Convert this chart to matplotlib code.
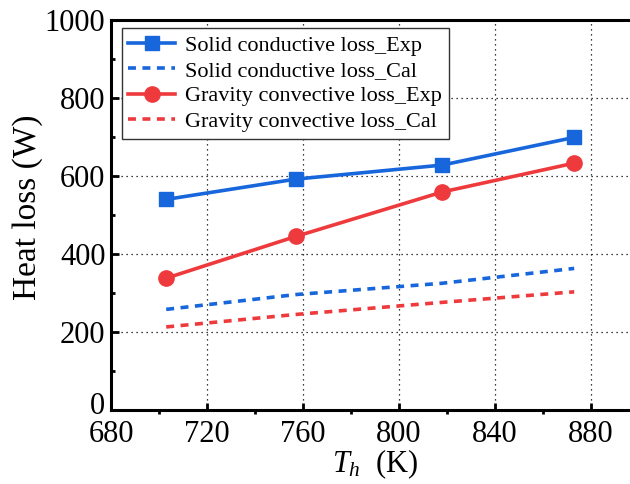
import matplotlib
matplotlib.use("Agg")
import matplotlib.pyplot as plt
from matplotlib.ticker import MultipleLocator, FuncFormatter

plt.rcParams['font.family'] = ['Liberation Serif', 'DejaVu Serif']
plt.rcParams['mathtext.fontset'] = 'custom'
plt.rcParams['mathtext.rm'] = 'Liberation Serif'
plt.rcParams['mathtext.it'] = 'Liberation Serif:italic'

temps = [703, 757, 818, 873]
solid_exp = [540, 592, 628, 699]
solid_cal = [258, 296, 325, 363]
grav_exp = [338, 445, 559, 633]
grav_cal = [213, 245, 276, 303]

blue = '#1766DB'
red = '#EE3A3C'

fig = plt.figure(figsize=(6.3, 4.84), dpi=100)
ax = fig.add_axes([111/630, 74/484, (639-111)/630, 390/484])

ax.plot(temps, solid_exp, '-s', color=blue, lw=2.6, ms=10, label='Solid conductive loss_Exp')
ax.plot(temps, solid_cal, linestyle=(0, (2.2, 1.8)), color=blue, lw=2.6, label='Solid conductive loss_Cal')
ax.plot(temps, grav_exp, '-o', color=red, lw=2.6, ms=11, label='Gravity convective loss_Exp')
ax.plot(temps, grav_cal, linestyle=(0, (2.2, 1.8)), color=red, lw=2.6, label='Gravity convective loss_Cal')

ax.set_xlim(680, 900)
ax.set_ylim(0, 1000)
ax.xaxis.set_major_locator(MultipleLocator(40))
ax.xaxis.set_minor_locator(MultipleLocator(20))
ax.yaxis.set_major_locator(MultipleLocator(200))
ax.yaxis.set_minor_locator(MultipleLocator(100))
# the "0" label is drawn separately, nudged up as in the original
ax.yaxis.set_major_formatter(FuncFormatter(lambda v, p: '' if v == 0 else f'{v:.0f}'))

ax.grid(True, which='major', color='black', linestyle=(0, (1, 3)), lw=0.9)
ax.tick_params(axis='x', which='major', direction='in', length=5, width=2, labelsize=22, pad=7)
ax.tick_params(axis='x', which='minor', direction='out', length=3, width=2)
ax.tick_params(axis='y', which='major', direction='in', length=6, width=2, labelsize=22, pad=4)
ax.tick_params(axis='y', which='minor', direction='in', length=3, width=2)
for s in ax.spines.values():
    s.set_linewidth(2.2)

ax.annotate('0', xy=(0, 0), xycoords='axes fraction', xytext=(-4, 5),
            textcoords='offset points', ha='right', va='center_baseline', fontsize=22)

ax.set_xlabel(r'$T_h$  (K)', fontsize=22, labelpad=-1)
ax.set_ylabel('Heat loss (W)', fontsize=24)
ax.yaxis.set_label_coords(-0.129, 0.52)

leg = ax.legend(loc='upper left', bbox_to_anchor=(0.012, 0.99), fontsize=16,
                frameon=True, fancybox=False, edgecolor='#333333', framealpha=1,
                handlelength=2.1, borderpad=0.3, labelspacing=0.22, handletextpad=0.45,
                borderaxespad=0.2)
leg.get_frame().set_linewidth(1.0)

fig.savefig('out.png', dpi=100)
